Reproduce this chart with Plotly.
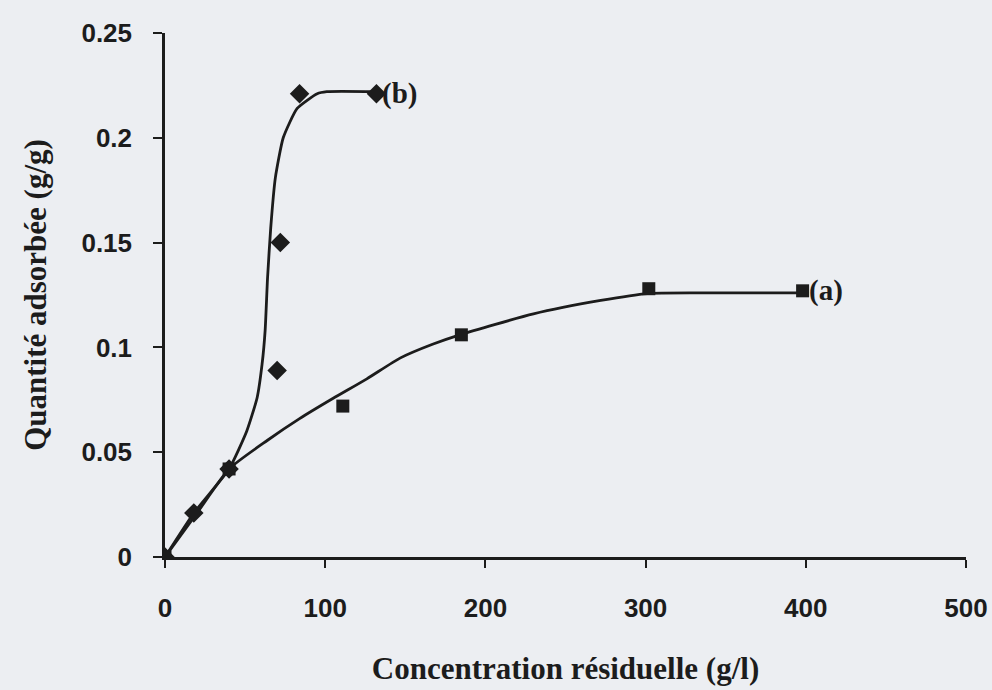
import plotly.graph_objects as go

# Measured points
a_x = [0, 40, 111, 185, 302, 398]
a_y = [0, 0.042, 0.072, 0.106, 0.128, 0.127]
b_x = [0, 18, 40, 70, 72, 84, 132]
b_y = [0, 0.021, 0.042, 0.089, 0.150, 0.221, 0.221]

# Fitted curves
a_cx = [0, 20, 40, 64, 84, 105, 126, 147, 167, 184, 230, 272, 301, 340, 398]
a_cy = [0, 0.021, 0.042, 0.0557, 0.066, 0.0757, 0.085, 0.095, 0.1015, 0.106, 0.116, 0.1224, 0.1257, 0.126, 0.126]
b_cx = [0, 18, 40, 51, 57.5, 60.6, 62.5, 64, 66, 68.9, 73.8, 82.5, 95, 101, 132]
b_cy = [0, 0.021, 0.042, 0.060, 0.076, 0.092, 0.108, 0.133, 0.157, 0.181, 0.200, 0.214, 0.221, 0.222, 0.222]

x_ticks = [0, 100, 200, 300, 400, 500]
y_ticks = [0, 0.05, 0.1, 0.15, 0.2, 0.25]
y_labels = ["0", "0.05", "0.1", "0.15", "0.2", "0.25"]

INK = "#1c1c1c"
BG = "#eceef2"

fig = go.Figure()
fig.add_trace(go.Scatter(x=a_cx, y=a_cy, mode="lines", line=dict(color=INK, width=2.8, shape="spline", smoothing=0.6),
                         showlegend=False, hoverinfo="skip"))
fig.add_trace(go.Scatter(x=b_cx, y=b_cy, mode="lines", line=dict(color=INK, width=2.8, shape="spline", smoothing=0.5),
                         showlegend=False, hoverinfo="skip"))
fig.add_trace(go.Scatter(x=a_x, y=a_y, mode="markers", marker=dict(symbol="square", size=13, color=INK),
                         showlegend=False, name="(a)"))
fig.add_trace(go.Scatter(x=b_x, y=b_y, mode="markers", marker=dict(symbol="diamond", size=15, color=INK),
                         showlegend=False, name="(b)"))

fig.add_annotation(x=a_x[-1], y=a_y[-1], text="<b>(a)</b>", showarrow=False, xanchor="left", xshift=4,
                   font=dict(family="Liberation Serif", size=29, color=INK))
fig.add_annotation(x=b_x[-1], y=b_y[-1], text="<b>(b)</b>", showarrow=False, xanchor="left", xshift=4,
                   font=dict(family="Liberation Serif", size=29, color=INK))

fig.update_layout(
    width=992, height=690,
    margin=dict(l=165, r=26, t=33, b=133),
    paper_bgcolor=BG, plot_bgcolor=BG,
    showlegend=False,
)
fig.update_xaxes(
    automargin=False,
    range=[0, 500], tickvals=x_ticks, ticktext=[str(v) for v in x_ticks],
    showgrid=False, zeroline=False, showline=True, linecolor=INK, linewidth=2.5,
    ticks="outside", ticklen=8, tickwidth=2, tickcolor=INK,
    tickfont=dict(family="Liberation Sans", size=26, color=INK, weight="bold"),
    ticklabelstandoff=18,
    title=dict(text="<b>Concentration résiduelle (g/l)</b>", standoff=36,
               font=dict(family="Liberation Serif", size=31, color=INK)),
)
fig.update_yaxes(
    automargin=False,
    range=[0, 0.25], tickvals=y_ticks, ticktext=y_labels,
    showgrid=False, zeroline=False, showline=True, linecolor=INK, linewidth=2.5,
    ticks="outside", ticklen=9, tickwidth=2, tickcolor=INK,
    tickfont=dict(family="Liberation Sans", size=26, color=INK, weight="bold"),
    ticklabelstandoff=16,
    title=dict(text="<b>Quantité adsorbée (g/g)</b>", standoff=26,
               font=dict(family="Liberation Serif", size=31, color=INK)),
)

fig.write_html("out.html")
